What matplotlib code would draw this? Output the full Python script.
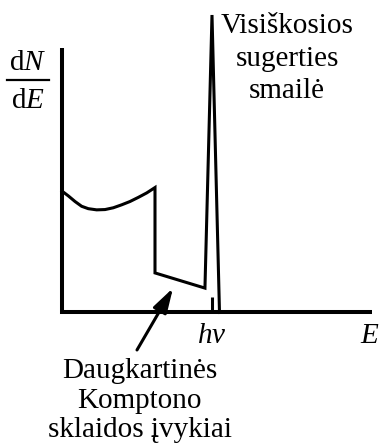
import numpy as np
import matplotlib.pyplot as plt

plt.rcParams['font.family'] = ['Liberation Serif', 'DejaVu Serif']
plt.rcParams['mathtext.fontset'] = 'custom'
plt.rcParams['mathtext.rm'] = 'Liberation Serif'
plt.rcParams['mathtext.it'] = 'Liberation Serif:italic'

# energy in units of h*nu, counts in arbitrary units
E_spec = [0.0, 0.042, 0.087, 0.131, 0.175, 0.231, 0.287, 0.342, 0.398,
          0.453, 0.509, 0.565, 0.62, 0.62, 0.953, 1.0, 1.05]
N_spec = [4.08, 3.92, 3.73, 3.57, 3.49, 3.45, 3.46, 3.52, 3.62,
          3.73, 3.87, 4.02, 4.20, 1.33, 0.82, 10.0, 0.0]
E_line = 1.0
N_line = 0.52
E_max = 2.07
N_max = 8.89

peak_label = ['Visiškosios', 'sugerties', 'smailė']
multi_label = ['Daugkartinės', 'Komptono', 'sklaidos įvykiai']

fig = plt.figure(figsize=(3.8, 4.48), dpi=100)
ax = fig.add_axes([0, 0, 1, 1])
ax.set_xlim(-0.4133, 2.12)
ax.set_ylim(-4.555, 10.504)
ax.axis('off')

# axes drawn as plain lines
ax.plot([0, 0, E_max], [N_max, 0, 0], color='black', lw=2.9,
        solid_joinstyle='miter', solid_capstyle='butt')

ax.plot(E_spec, N_spec, color='black', lw=2.2, solid_joinstyle='miter')
ax.plot([E_line, E_line], [0, N_line], color='black', lw=2.2, solid_capstyle='butt')

fs = 21
ax.text(-0.227, 8.15, r'$\mathrm{d}N$', ha='center', va='baseline', fontsize=fs)
ax.text(-0.227, 6.87, r'$\mathrm{d}E$', ha='center', va='baseline', fontsize=fs)
ax.plot([-0.367, -0.087], [7.82, 7.82], color='black', lw=1.6)

ax.text(E_line, -1.03, r'$h\nu$', ha='center', va='baseline', fontsize=fs)
ax.text(2.05, -1.03, r'$E$', ha='center', va='baseline', fontsize=fs)

for lab, y in zip(peak_label, [9.40, 8.29, 7.21]):
    ax.text(1.5, y, lab, ha='center', va='baseline', fontsize=fs)
for lab, y in zip(multi_label, [-2.20, -3.21, -4.18]):
    ax.text(0.517, y, lab, ha='center', va='baseline', fontsize=fs)

ax.annotate('', xy=(0.74, 0.82), xytext=(0.5, -1.26),
            arrowprops=dict(arrowstyle='-|>,head_length=0.5,head_width=0.15',
                            color='black', lw=2.2,
                            mutation_scale=30, shrinkA=0, shrinkB=0))

fig.savefig('out.png', dpi=100)
